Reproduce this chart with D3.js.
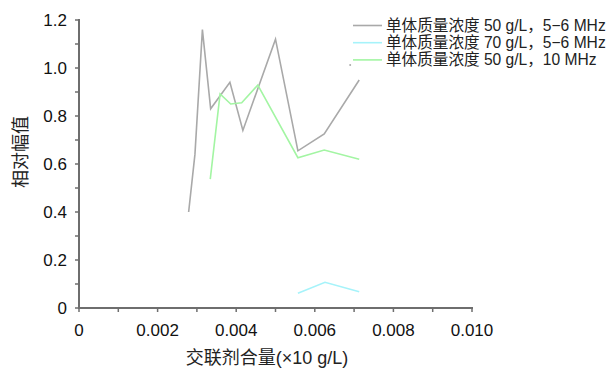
<!DOCTYPE html>
<html>
<head>
<meta charset="utf-8">
<script src="https://cdn.jsdelivr.net/npm/d3@7"></script>
<style>
  html, body { margin: 0; padding: 0; background: #fff; }
  svg { display: block; }
  text { font-family: "Liberation Sans", Arial, "Noto Sans CJK SC", sans-serif; }
</style>
</head>
<body>
<svg id="chart" width="611" height="369"></svg>
<script>
// Crosslinker dosage (x) against relative amplitude (y)
const xTicks = [0, 0.002, 0.004, 0.006, 0.008, 0.010];
const xTickLabels = ["0", "0.002", "0.004", "0.006", "0.008", "0.010"];
const yTicks = [0, 0.2, 0.4, 0.6, 0.8, 1.0, 1.2];
const yTickLabels = ["0", "0.2", "0.4", "0.6", "0.8", "1.0", "1.2"];

const seriesNames = [
  "单体质量浓度 50 g/L，5−6 MHz",
  "单体质量浓度 70 g/L，5−6 MHz",
  "单体质量浓度 50 g/L，10 MHz"
];
const seriesColors = ["#a9a9a9", "#a6f3fa", "#a3f5a3"];

const grayX = [0.00279, 0.00295, 0.00314, 0.00335, 0.00384, 0.00417, 0.00500, 0.00557, 0.00624, 0.00713];
const grayY = [0.40, 0.64, 1.16, 0.83, 0.94, 0.74, 1.12, 0.655, 0.725, 0.95];

const cyanX = [0.00557, 0.00626, 0.00713];
const cyanY = [0.061, 0.107, 0.068];

const greenX = [0.00334, 0.00359, 0.00386, 0.00414, 0.00455, 0.00557, 0.00624, 0.00713];
const greenY = [0.537, 0.892, 0.85, 0.855, 0.929, 0.626, 0.658, 0.62];

// lone gray point beside the legend
const strayX = [0.00690];
const strayY = [1.012];

const svg = d3.select("#chart");
const x = d3.scaleLinear().domain([0, 0.010]).range([79, 472]);
const y = d3.scaleLinear().domain([0, 1.2]).range([308, 20]);

const axisColor = "#6e6e6e";

// x axis
const xAxis = svg.append("g").attr("transform", "translate(0,308)");
xAxis.append("line").attr("x1", x(0) - 1).attr("x2", x(0.010) + 1)
  .attr("stroke", axisColor).attr("stroke-width", 2);
const xMinor = d3.range(0, 11).map(i => i * 0.001);
xAxis.selectAll(".xt").data(xMinor).join("line")
  .attr("x1", d => x(d)).attr("x2", d => x(d))
  .attr("y1", 0).attr("y2", 4)
  .attr("stroke", axisColor).attr("stroke-width", 1.5);
xAxis.selectAll(".xl").data(xTicks).join("text")
  .attr("x", d => x(d)).attr("y", 28)
  .attr("text-anchor", "middle").attr("font-size", 17).attr("fill", "#111")
  .text((d, i) => xTickLabels[i]);

// y axis
const yAxis = svg.append("g").attr("transform", "translate(79,0)");
yAxis.append("line").attr("y1", y(0) + 1).attr("y2", y(1.2) - 1)
  .attr("stroke", axisColor).attr("stroke-width", 2);
const yMinor = d3.range(0, 13).map(i => i * 0.1);
yAxis.selectAll(".yt").data(yMinor).join("line")
  .attr("y1", d => y(d)).attr("y2", d => y(d))
  .attr("x1", 0).attr("x2", -4)
  .attr("stroke", axisColor).attr("stroke-width", 1.5);
yAxis.selectAll(".yl").data(yTicks).join("text")
  .attr("x", -12).attr("y", d => y(d) + 6)
  .attr("text-anchor", "end").attr("font-size", 17).attr("fill", "#111")
  .text((d, i) => yTickLabels[i]);

// axis titles
svg.append("text").attr("x", 267).attr("y", 364)
  .attr("text-anchor", "middle").attr("font-size", 18).attr("fill", "#222")
  .text("交联剂合量(×10 g/L)");
svg.append("text")
  .attr("transform", "translate(27,152) rotate(-90)")
  .attr("text-anchor", "middle").attr("font-size", 18).attr("fill", "#222")
  .text("相对幅值");

// series lines
const series = [
  { xs: grayX, ys: grayY },
  { xs: cyanX, ys: cyanY },
  { xs: greenX, ys: greenY }
];
const line = d3.line().x(d => x(d[0])).y(d => y(d[1]));
series.forEach((s, i) => {
  svg.append("path")
    .datum(s.xs.map((v, j) => [v, s.ys[j]]))
    .attr("d", line)
    .attr("fill", "none")
    .attr("stroke", seriesColors[i])
    .attr("stroke-width", 1.6)
    .attr("stroke-linejoin", "miter");
});

svg.selectAll(".stray").data(strayX).join("circle")
  .attr("cx", d => x(d)).attr("cy", (d, i) => y(strayY[i]))
  .attr("r", 1).attr("fill", "#aaa");

// legend
const legend = svg.append("g");
seriesNames.forEach((name, i) => {
  const ly = 25.5 + i * 17.2;
  legend.append("line").attr("x1", 353).attr("x2", 382)
    .attr("y1", ly).attr("y2", ly)
    .attr("stroke", seriesColors[i]).attr("stroke-width", 1.6);
  legend.append("text").attr("x", 386).attr("y", ly + 5.5)
    .attr("font-size", 15.6).attr("fill", "#222")
    .text(name);
});
</script>
</body>
</html>
